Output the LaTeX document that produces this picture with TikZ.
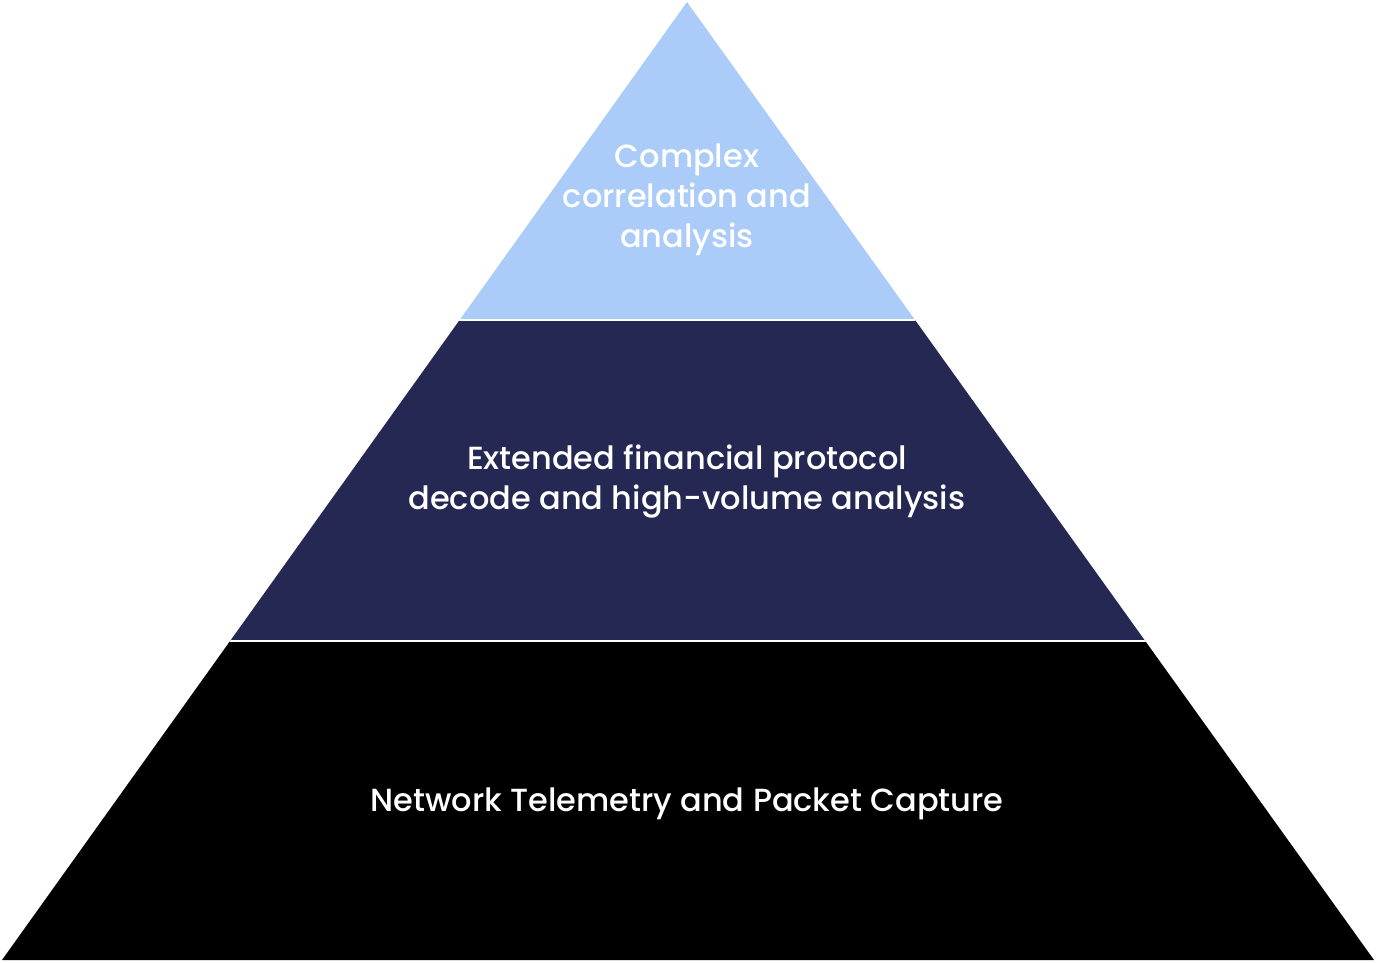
\documentclass[tikz,border=0pt]{standalone}
\usepackage{fontspec}
\setmainfont{Poppins Medium}
\definecolor{tiertop}{HTML}{ABCBF8}
\definecolor{tiermid}{HTML}{262854}
\definecolor{tierbase}{HTML}{000000}
\begin{document}
\begin{tikzpicture}[x=1pt, y=1pt,
    tiertext/.style={text=white, align=center, font=\fontsize{32}{40}\selectfont}]
  \useasboundingbox (0,0) rectangle (1376,962);
  \coordinate (apex) at (687,960);
  \coordinate (left) at (2,2);
  \coordinate (right) at (1374,2);
  \begin{scope}
    \clip (apex) -- (right) -- (left) -- cycle;
    \fill[tierbase] (0,0) rectangle (1376,321);
    \fill[tiermid] (0,321) rectangle (1376,642);
    \fill[tiertop] (0,642) rectangle (1376,962);
    \draw[white, line width=2pt] (0,321) -- (1376,321);
    \draw[white, line width=2pt] (0,642) -- (1376,642);
  \end{scope}
  \node[tiertext] (top) at (687,762) {Complex\\correlation and\\analysis};
  \node[tiertext] (mid) at (687,480) {Extended financial protocol\\decode and high-volume analysis};
  \node[tiertext] (base) at (687,158) {Network Telemetry and Packet Capture};
\end{tikzpicture}
\end{document}
